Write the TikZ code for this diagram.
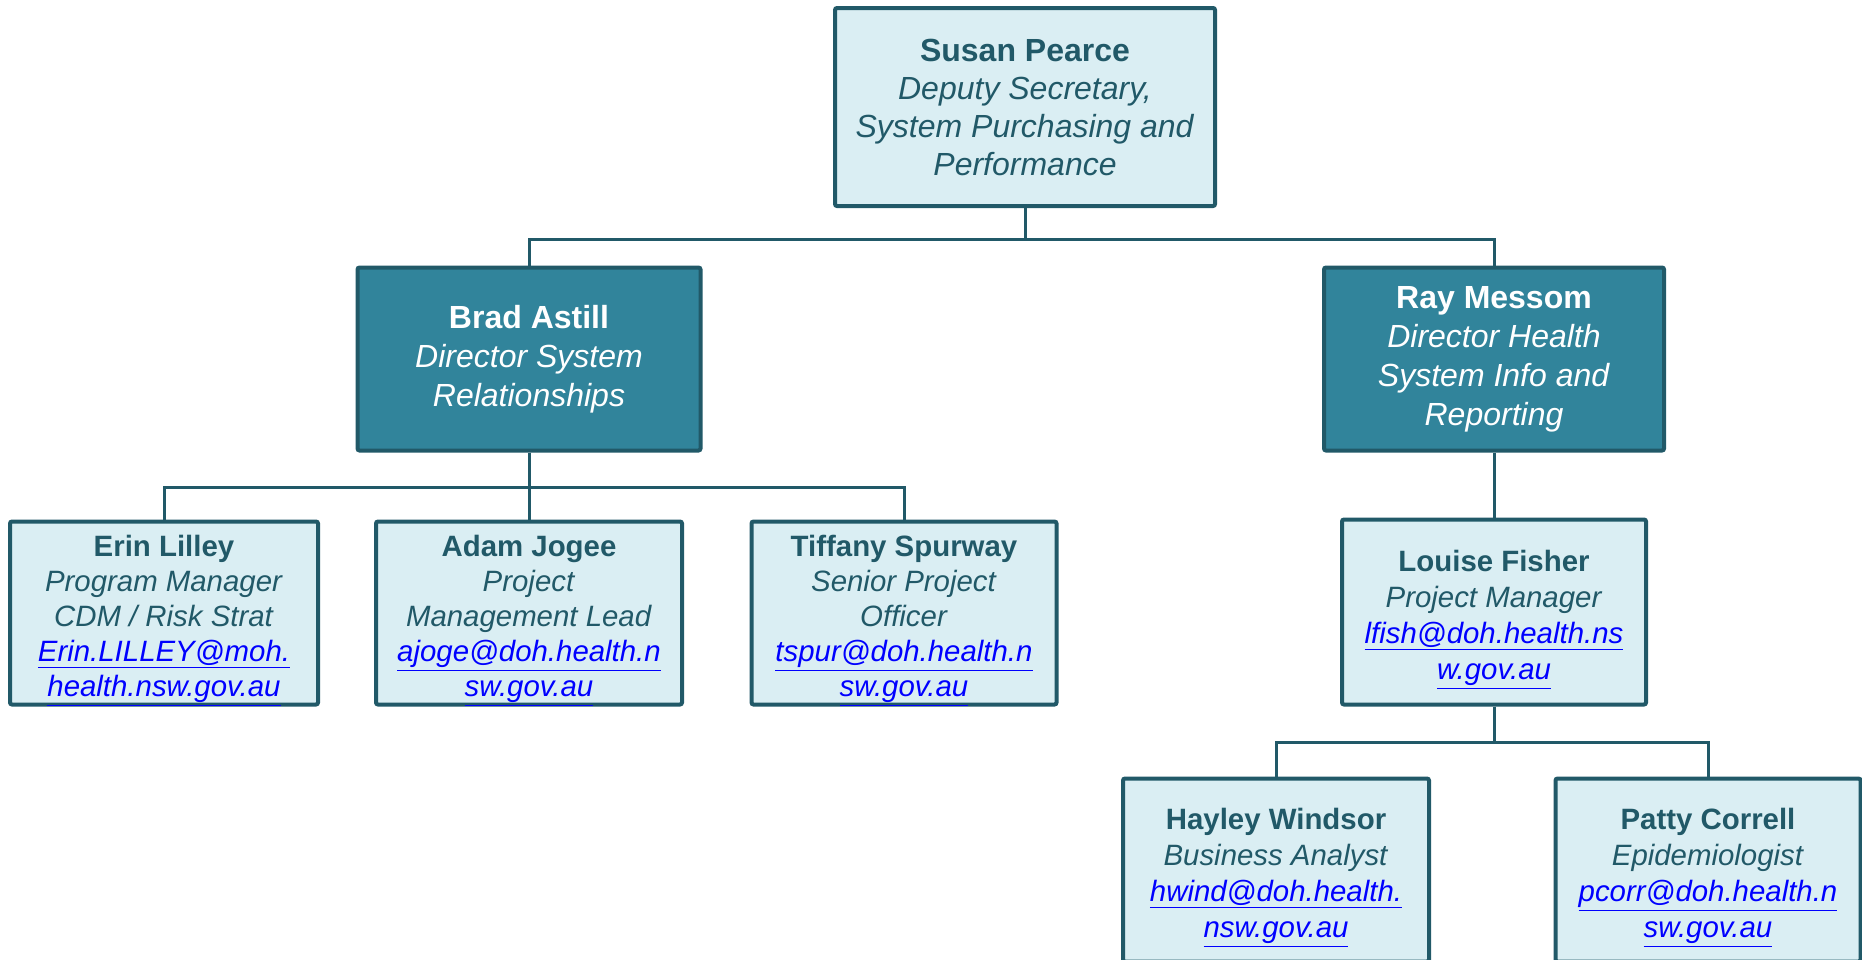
\documentclass[tikz,border=0pt]{standalone}
\usepackage{fontspec}
\setmainfont{Liberation Sans}
\definecolor{bordTeal}{HTML}{215968}
\definecolor{lightFill}{HTML}{DAEEF3}
\definecolor{darkFill}{HTML}{31849B}
\definecolor{linkBlue}{HTML}{0000FF}
\newcommand{\emailline}[1]{\raisebox{0pt}[\height][0pt]{\color{linkBlue}\itshape\underline{#1}}}
\newcommand{\staffname}[1]{\rule{0pt}{13pt}\textbf{#1}}
\tikzset{
  lightbox/.style={rectangle, draw=bordTeal, fill=lightFill, line width=2pt, rounded corners=1pt,
    text=bordTeal, align=center, font=\fontsize{16}{19}\selectfont, inner sep=0pt},
  darkbox/.style={lightbox, fill=darkFill, text=white, font=\fontsize{16}{19.5}\selectfont},
  staffbox/.style={lightbox, font=\fontsize{14.7}{18}\selectfont, minimum height=91.5pt},
  teambox/.style={staffbox, font=\fontsize{14.7}{17.5}\selectfont},
  link/.style={draw=bordTeal, line width=1.5pt}
}
\begin{document}
\begin{tikzpicture}[x=0.5pt, y=-0.5pt]
            \useasboundingbox (0,0) rectangle (1862,959);
            \clip (0,0) rectangle (1862,959);

            \node [lightbox, minimum width=190pt, minimum height=99pt] (susan) at (1025,107)
              {\textbf{Susan Pearce}\\ \textit{Deputy Secretary,}\\ \textit{System Purchasing and}\\ \textit{Performance}};

            \node [darkbox, minimum width=171.5pt, minimum height=91.5pt] (brad) at (529,359)
              {\textbf{Brad Astill}\\ \textit{Director System}\\ \textit{Relationships}};
            \node [darkbox, minimum width=170pt, minimum height=91.5pt] (ray) at (1494,359)
              {\textbf{Ray Messom}\\ \textit{Director Health}\\ \textit{System Info and}\\ \textit{Reporting}};

            \node [teambox, minimum width=154pt] (erin) at (164,613)
              {\staffname{Erin Lilley}\\ \textit{Program Manager}\\ \textit{CDM / Risk Strat}\\ \emailline{Erin.LILLEY@moh.}\\ \emailline{health.nsw.gov.au}};
            \node [teambox, minimum width=153pt] (adam) at (529,613)
              {\staffname{Adam Jogee}\\ \textit{Project}\\ \textit{Management Lead}\\ \emailline{ajoge@doh.health.n}\\ \emailline{sw.gov.au}};
            \node [teambox, minimum width=152.5pt] (tiffany) at (904,613)
              {\staffname{Tiffany Spurway}\\ \textit{Senior Project}\\ \textit{Officer}\\ \emailline{tspur@doh.health.n}\\ \emailline{sw.gov.au}};

            \node [staffbox, minimum width=152pt, minimum height=92.5pt] (louise) at (1494,612)
              {\staffname{Louise Fisher}\\ \textit{Project Manager}\\ \emailline{lfish@doh.health.ns}\\ \emailline{w.gov.au}};

            \node [staffbox, minimum width=153pt] (hayley) at (1276,870)
              {\staffname{Hayley Windsor}\\ \textit{Business Analyst}\\ \emailline{hwind@doh.health.}\\ \emailline{nsw.gov.au}};
            \node [staffbox, minimum width=152.5pt] (patty) at (1708,870)
              {\staffname{Patty Correll}\\ \textit{Epidemiologist}\\ \emailline{pcorr@doh.health.n}\\ \emailline{sw.gov.au}};

            \draw [link] (susan.south) -- ++(0,31) -| (brad.north);
            \draw [link] (susan.south) -- ++(0,31) -| (ray.north);
            \draw [link] (brad.south) -- ++(0,35) -| (erin.north);
            \draw [link] (brad.south) -- (adam.north);
            \draw [link] (brad.south) -- ++(0,35) -| (tiffany.north);
            \draw [link] (ray.south) -- (louise.north);
            \draw [link] (louise.south) -- ++(0,36) -| (hayley.north);
            \draw [link] (louise.south) -- ++(0,36) -| (patty.north);
        \end{tikzpicture}
\end{document}
